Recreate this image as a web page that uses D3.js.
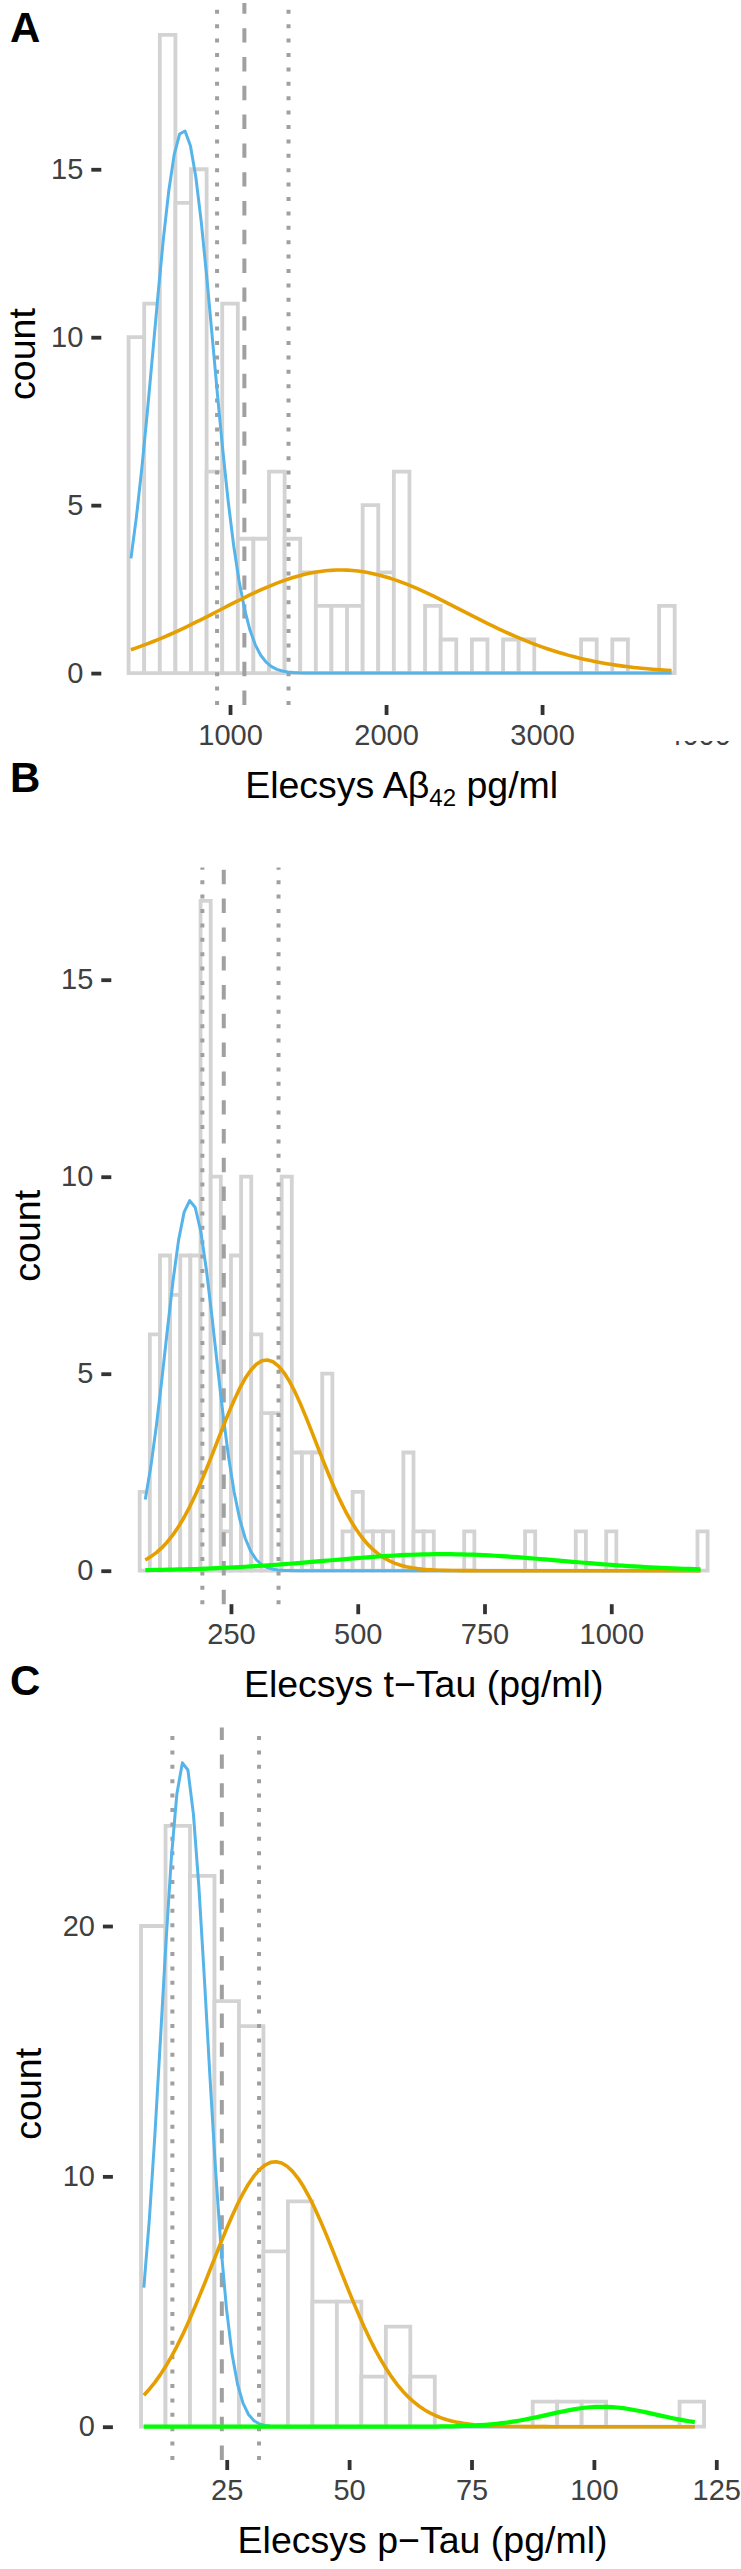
<!DOCTYPE html>
<html><head><meta charset="utf-8">
<script src="https://cdn.jsdelivr.net/npm/d3@7"></script>
<style>
body{margin:0;background:#fff}
svg{display:block}
text{font-family:"Liberation Sans",Arial,Helvetica,sans-serif}
</style>
</head><body>
<svg id="chart" width="741" height="2569"></svg>
<script>
// ---------------- DATA ----------------
// Panel A: Elecsys Abeta42
const aBinStart = 350, aBinWidth = 100;
const aCounts = [10,11,19,14,15,6,11,4,4,6,4,3,2,2,2,5,3,6,0,2,1,0,1,0,1,1,0,0,0,1,0,1,0,0,2];
const aXTicks = [1000,2000,3000,4000];
const aYTicks = [0,5,10,15];
const aCutoffs = [917,1092,1375];
const aCutoffTypes = ["dotted","dashed","dotted"];
const aCompMeans = [700,1708];
const aCompSDs = [190,780];
const aCompN = [77,60];
const aCurveRange = [365,3830];

// Panel B: Elecsys t-Tau
const bBinStart = 70, bBinWidth = 20;
const bCounts = [2,6,8,7,8,8,17,10,1,8,10,6,4,4,10,3,3,3,5,0,1,2,1,1,1,0,3,1,1,0,0,0,1,0,0,0,0,0,1,0,0,0,0,1,0,0,1,0,0,0,0,0,0,0,0,1];
const bXTicks = [250,500,750,1000];
const bYTicks = [0,5,10,15];
const bCutoffs = [193.6,235.8,343.8];
const bCutoffTypes = ["dotted","dashed","dotted"];
const bCompMeans = [170,320,668];
const bCompSDs = [49,98,230];
const bCompN = [57.7,65.7,12.1];
const bCurveRange = [81,1176];

// Panel C: Elecsys p-Tau
const cBinStart = 7.5, cBinWidth = 5;
const cCounts = [20,24,22,17,16,7,9,5,5,2,4,2,0,0,0,0,1,1,1,0,0,0,1];
const cXTicks = [25,50,75,100,125];
const cYTicks = [0,10,20];
const cCutoffs = [13.9,24.0,31.6];
const cCutoffTypes = ["dotted","dashed","dotted"];
const cCompMeans = [16.3,34.9,101.7];
const cCompSDs = [4.65,13,11];
const cCompN = [62,69,4.4];
const cCurveRange = [8.07,120.6];

// ---------------- STYLE / LAYOUT ----------------
const compColors = ["#56B4E9","#E69F00","#00FF00"];
const compWidths = [3.0,3.6,4.2];
const barStroke = "#d3d3d3";
const vlineColor = "#a0a0a0";
const lwd = 4;
const tickFont = 29, titleFont = 37.5, letterFont = 42;

const panels = [
  {letter:"A", letterY:41.7, counts:aCounts, binStart:aBinStart, binWidth:aBinWidth, xTicks:aXTicks, yTicks:aYTicks,
   cutoffs:aCutoffs, cutoffTypes:aCutoffTypes, means:aCompMeans, sds:aCompSDs, ns:aCompN, curveRange:aCurveRange,
   left:101.3, right:702, top:3, bottom:705, xDomain:[175,4025], yDomain:[-0.95,19.95], clipTick:4000, countX:35,
   title:[["Elecsys A\u03b2",0,titleFont],["42",8,24],[" pg/ml",-8,titleFont]]},
  {letter:"B", letterY:792, counts:bCounts, binStart:bBinStart, binWidth:bBinWidth, xTicks:bXTicks, yTicks:bYTicks,
   cutoffs:bCutoffs, cutoffTypes:bCutoffTypes, means:bCompMeans, sds:bCompSDs, ns:bCompN, curveRange:bCurveRange,
   left:111.3, right:736, top:867.4, bottom:1604.2, xDomain:[14,1246], yDomain:[-0.85,17.85], countX:40,
   title:[["Elecsys t\u2212Tau (pg/ml)",0,titleFont]]},
  {letter:"C", letterY:1695, counts:cCounts, binStart:cBinStart, binWidth:cBinWidth, xTicks:cXTicks, yTicks:cYTicks,
   cutoffs:cCutoffs, cutoffTypes:cCutoffTypes, means:cCompMeans, sds:cCompSDs, ns:cCompN, curveRange:cCurveRange,
   left:112.9, right:732.2, top:1727.5, bottom:2460, xDomain:[1.75,128.25], yDomain:[-1.33,27.93], countX:41,
   title:[["Elecsys p\u2212Tau (pg/ml)",0,titleFont]]}
];

function dnorm(x, m, s){ return Math.exp(-0.5*((x-m)/s)**2)/(s*Math.sqrt(2*Math.PI)); }

const svg = d3.select("#chart");
svg.append("rect").attr("width",741).attr("height",2569).attr("fill","#fff");

panels.forEach((P, pi) => {
  const g = svg.append("g").attr("class","panel-"+P.letter);
  const x = d3.scaleLinear().domain(P.xDomain).range([P.left, P.right]);
  const y = d3.scaleLinear().domain(P.yDomain).range([P.bottom, P.top]);

  // histogram outlines
  g.append("g").selectAll("path").data(P.counts).join("path")
    .attr("d", (c,i) => {
      const x0 = x(P.binStart + i*P.binWidth), x1 = x(P.binStart + (i+1)*P.binWidth);
      const y0 = y(0), y1 = y(c);
      return `M${x0},${y0}V${y1}H${x1}V${y0}Z`;
    })
    .attr("fill","#fff").attr("stroke",barStroke).attr("stroke-width",3.8)
    .attr("stroke-linejoin","miter");

  // cutoff lines (drawn bottom to top)
  g.append("g").selectAll("line").data(P.cutoffs).join("line")
    .attr("x1", d=>x(d)).attr("x2", d=>x(d))
    .attr("y1", P.bottom).attr("y2", P.top)
    .attr("stroke", vlineColor).attr("stroke-width", lwd)
    .attr("stroke-dasharray", (d,i)=> P.cutoffTypes[i]==="dashed" ? `${3.6*lwd},${3.6*lwd}` : `${lwd},${2.6*lwd}`);

  // mixture component curves
  const line = d3.line().x(d=>x(d[0])).y(d=>y(d[1]));
  P.means.forEach((m,k) => {
    const pts = d3.range(101).map(j => {
      const xv = P.curveRange[0] + (P.curveRange[1]-P.curveRange[0])*j/100;
      return [xv, P.ns[k]*P.binWidth*dnorm(xv, m, P.sds[k])];
    });
    g.append("path").datum(pts).attr("d", line)
      .attr("fill","none").attr("stroke", compColors[k]).attr("stroke-width", compWidths[k])
      .attr("stroke-linejoin","round");
  });

  // axes
  const ax = g.append("g").attr("transform",`translate(0,${P.bottom})`)
    .call(d3.axisBottom(x).tickValues(P.xTicks).tickFormat(d3.format("d")).tickSize(10).tickPadding(9.4));
  const ay = g.append("g").attr("transform",`translate(${P.left},0)`)
    .call(d3.axisLeft(y).tickValues(P.yTicks).tickFormat(d3.format("d")).tickSize(10).tickPadding(8));
  [ax, ay].forEach(a => {
    a.select(".domain").remove();
    a.selectAll(".tick line").attr("stroke","#333").attr("stroke-width",3.8);
    a.selectAll(".tick text").attr("fill","#404040").attr("font-size",tickFont)
      .attr("font-family","'Liberation Sans',Arial,sans-serif");
  });
  if (P.clipTick !== undefined) {
    const cid = "clip"+P.letter;
    svg.append("defs").append("clipPath").attr("id",cid)
      .append("rect").attr("x",-60).attr("y",36).attr("width",120).attr("height",30);
    ax.selectAll(".tick").filter(d => d === P.clipTick).attr("clip-path",`url(#${cid})`);
  }

  // axis titles
  const t = g.append("text").attr("x",(P.left+P.right)/2).attr("y",P.bottom+93)
    .attr("text-anchor","middle").attr("fill","#000");
  P.title.forEach(([s,dy,fs]) => t.append("tspan").attr("dy",dy).attr("font-size",fs).text(s));

  g.append("text").attr("transform",`translate(${P.countX},${(P.top+P.bottom)/2}) rotate(-90)`)
    .attr("text-anchor","middle").attr("font-size",titleFont).attr("fill","#000").text("count");

  // panel letter
  svg.append("text").attr("x",10).attr("y",P.letterY).attr("font-size",letterFont)
    .attr("font-weight","bold").attr("fill","#000").text(P.letter);
});
</script>
</body></html>
